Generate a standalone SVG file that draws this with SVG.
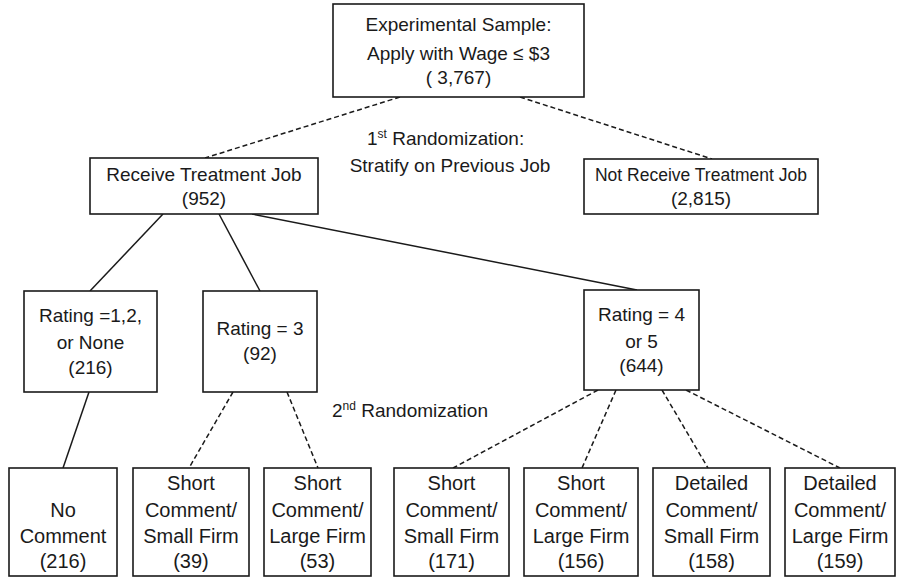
<svg xmlns="http://www.w3.org/2000/svg" width="899" height="578" viewBox="0 0 899 578">
<style>
.box{fill:#fff;stroke:#1a1a1a;stroke-width:1.6}
.t{font-family:"Liberation Sans",Arial,sans-serif;font-size:19px;fill:#1a1a1a;text-anchor:middle}
.b{font-size:20px}
.s{font-size:17.5px}
.solid{stroke:#1a1a1a;stroke-width:1.5;fill:none}
.dash{stroke:#1a1a1a;stroke-width:1.5;fill:none;stroke-dasharray:5 3}
.lbl{font-family:"Liberation Sans",Arial,sans-serif;font-size:19px;fill:#1a1a1a}
</style>
<rect width="899" height="578" fill="#fff"/>
<g id="connectors">
<line class="dash" x1="400" y1="97" x2="205" y2="158"/>
<line class="dash" x1="520" y1="97" x2="712" y2="159"/>
<line class="solid" x1="163" y1="214" x2="90" y2="291"/>
<line class="solid" x1="219" y1="214" x2="260" y2="291"/>
<line class="solid" x1="252" y1="214" x2="637" y2="290"/>
<line class="solid" x1="89" y1="392" x2="63" y2="468"/>
<line class="dash" x1="233" y1="392" x2="189" y2="468"/>
<line class="dash" x1="287" y1="392" x2="318" y2="468"/>
<line class="dash" x1="598" y1="390" x2="453" y2="468"/>
<line class="dash" x1="616" y1="390" x2="582" y2="468"/>
<line class="dash" x1="662" y1="390" x2="708" y2="468"/>
<line class="dash" x1="686" y1="390" x2="840" y2="468"/>
</g>
<g id="label1">
<text class="lbl" x="367" y="145">1<tspan font-size="12" dy="-7">st</tspan><tspan dy="7"> Randomization:</tspan></text>
<text class="t" x="450" y="172">Stratify on Previous Job</text>
</g>
<g id="label2">
<text class="lbl" x="332" y="417">2<tspan font-size="12" dy="-7">nd</tspan><tspan dy="7"> Randomization</tspan></text>
</g>
<g id="top">
<rect class="box" x="333" y="4" width="251" height="93"/>
<text class="t" x="458.5" y="31">Experimental Sample:</text>
<text class="t" x="458.5" y="60">Apply with Wage ≤ $3</text>
<text class="t" x="458.5" y="84">( 3,767)</text>
</g>
<g id="receive">
<rect class="box" x="90" y="158" width="228" height="56"/>
<text class="t" x="204" y="181">Receive Treatment Job</text>
<text class="t" x="204" y="205">(952)</text>
</g>
<g id="notreceive">
<rect class="box" x="584" y="159" width="234" height="55"/>
<text class="t s" x="701" y="181">Not Receive Treatment Job</text>
<text class="t" x="701" y="205">(2,815)</text>
</g>
<g id="rating12">
<rect class="box" x="24" y="291" width="133" height="101"/>
<text class="t" x="90.5" y="322">Rating =1,2,</text>
<text class="t" x="90.5" y="349">or None</text>
<text class="t" x="90.5" y="374">(216)</text>
</g>
<g id="rating3">
<rect class="box" x="203" y="291" width="114" height="101"/>
<text class="t" x="260" y="335">Rating = 3</text>
<text class="t" x="260" y="360">(92)</text>
</g>
<g id="rating45">
<rect class="box" x="584" y="290" width="115" height="100"/>
<text class="t" x="641.5" y="321">Rating = 4</text>
<text class="t" x="641.5" y="348">or 5</text>
<text class="t" x="641.5" y="372">(644)</text>
</g>
<g id="nocomment">
<rect class="box" x="9" y="468" width="108" height="108"/>
<text class="t b" x="63" y="517">No</text>
<text class="t b" x="63" y="543">Comment</text>
<text class="t b" x="63" y="568">(216)</text>
</g>
<g id="ss1">
<rect class="box" x="133" y="468" width="116" height="108"/>
<text class="t b" x="191" y="490">Short</text>
<text class="t b" x="191" y="517">Comment/</text>
<text class="t b" x="191" y="543">Small Firm</text>
<text class="t b" x="191" y="568">(39)</text>
</g>
<g id="sl1">
<rect class="box" x="264" y="468" width="107" height="108"/>
<text class="t b" x="317.5" y="490">Short</text>
<text class="t b" x="317.5" y="517">Comment/</text>
<text class="t b" x="317.5" y="543">Large Firm</text>
<text class="t b" x="317.5" y="568">(53)</text>
</g>
<g id="ss2">
<rect class="box" x="394" y="468" width="115" height="108"/>
<text class="t b" x="451.5" y="490">Short</text>
<text class="t b" x="451.5" y="517">Comment/</text>
<text class="t b" x="451.5" y="543">Small Firm</text>
<text class="t b" x="451.5" y="568">(171)</text>
</g>
<g id="sl2">
<rect class="box" x="524" y="468" width="114" height="108"/>
<text class="t b" x="581" y="490">Short</text>
<text class="t b" x="581" y="517">Comment/</text>
<text class="t b" x="581" y="543">Large Firm</text>
<text class="t b" x="581" y="568">(156)</text>
</g>
<g id="ds">
<rect class="box" x="653" y="468" width="117" height="108"/>
<text class="t b" x="711.5" y="490">Detailed</text>
<text class="t b" x="711.5" y="517">Comment/</text>
<text class="t b" x="711.5" y="543">Small Firm</text>
<text class="t b" x="711.5" y="568">(158)</text>
</g>
<g id="dl">
<rect class="box" x="785" y="468" width="110" height="108"/>
<text class="t b" x="840" y="490">Detailed</text>
<text class="t b" x="840" y="517">Comment/</text>
<text class="t b" x="840" y="543">Large Firm</text>
<text class="t b" x="840" y="568">(159)</text>
</g>
</svg>
